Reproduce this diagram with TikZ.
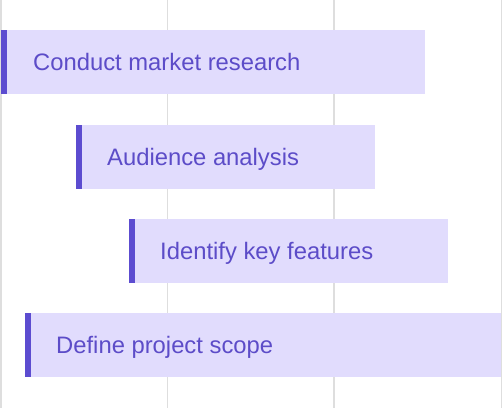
\documentclass[tikz,border=0pt]{standalone}
\usepackage{fontspec}
\setmainfont{Liberation Sans}
\definecolor{barfill}{HTML}{E1DCFD}
\definecolor{accentc}{HTML}{5C4CD0}
\definecolor{textc}{HTML}{5C4CC8}
\definecolor{gridc}{HTML}{DEDEDE}
\tikzset{
  gridline/.style={draw=gridc, line width=1.5pt},
  bar/.style={fill=barfill, draw=none, rectangle, minimum height=64pt, inner sep=0pt, anchor=north west},
  accentbar/.style={fill=accentc},
  lbl/.style={text=textc, font=\fontsize{23.8}{26}\selectfont, inner sep=0pt, anchor=west, text height=17pt, text depth=0pt}
}
\begin{document}
\begin{tikzpicture}[x=1pt,y=-1pt]
\useasboundingbox (0,0) rectangle (503,408);
\fill[white] (0,0) rectangle (503,408);
\coordinate (g0t) at (1,0); \coordinate (g0b) at (1,408);
\coordinate (g1t) at (167.5,0); \coordinate (g1b) at (167.5,408);
\coordinate (g2t) at (334,0); \coordinate (g2b) at (334,408);
\coordinate (g3t) at (501.5,0); \coordinate (g3b) at (501.5,408);
\draw[gridline] (g0t) -- (g0b);
\draw[gridline] (g1t) -- (g1b);
\draw[gridline] (g2t) -- (g2b);
\draw[gridline] (g3t) -- (g3b);

\node[bar, minimum width=424pt] (b1) at (1,30) {};
\node[bar, minimum width=299pt] (b2) at (76,124.5) {};
\node[bar, minimum width=319pt] (b3) at (129,218.5) {};
\node[bar, minimum width=476pt] (b4) at (25,313) {};

\foreach \b in {b1,b2,b3,b4}{
  \fill[accentbar] (\b.north west) rectangle ([xshift=6pt]\b.south west);
}

\node[lbl] (t1) at ([xshift=32pt]b1.west) {Conduct market research};
\node[lbl] (t2) at ([xshift=31pt]b2.west) {Audience analysis};
\node[lbl] (t3) at ([xshift=31pt]b3.west) {Identify key features};
\node[lbl] (t4) at ([xshift=31pt]b4.west) {Define project scope};
\end{tikzpicture}
\end{document}
